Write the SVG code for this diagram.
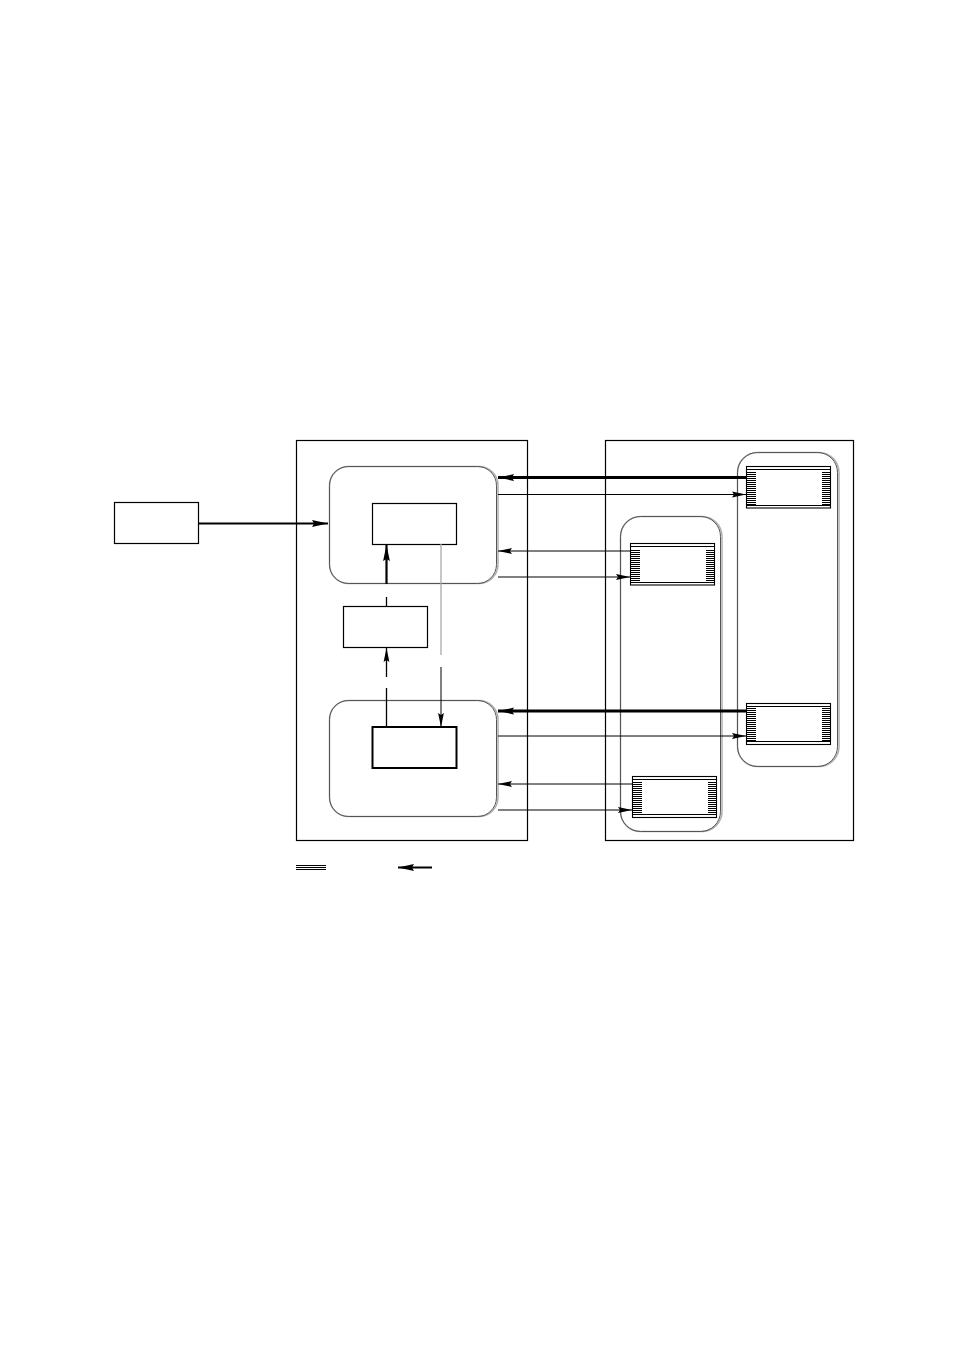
<svg xmlns="http://www.w3.org/2000/svg" width="954" height="1351" viewBox="0 0 954 1351">
<style>
.panel{fill:none;stroke:#000;stroke-width:1.2}
.box{fill:#fff;stroke:#000;stroke-width:1.2}
.boxb{fill:#fff;stroke:#000;stroke-width:2}
.rshadow{fill:none;stroke:#b0b0b0;stroke-width:1.5}
.rbox{fill:none;stroke:#555;stroke-width:1}
.hb{fill:#fff;stroke:#000;stroke-width:1.1}
.hl{stroke:#000;stroke-width:1}
.thin{stroke:#000;stroke-width:1;fill:none}
.mid{stroke:#000;stroke-width:1.3;fill:none}
.thick{stroke:#000;stroke-width:2.2;fill:none}
.vthick{stroke:#000;stroke-width:3;fill:none}
.gray{stroke:#aaa;stroke-width:1.3;fill:none}
</style>
<defs>
<marker id="ah" markerWidth="15" markerHeight="7" refX="14" refY="3.5" orient="auto" markerUnits="userSpaceOnUse">
<path d="M0,0.6 L14,3.5 L0,6.4 L2,3.5 z" fill="#000"/>
</marker>
<marker id="ahb" markerWidth="17" markerHeight="8" refX="16" refY="4" orient="auto" markerUnits="userSpaceOnUse">
<path d="M0,0.6 L16,4 L0,7.4 L2,4 z" fill="#000"/>
</marker>
<pattern id="hatch" width="4" height="2" patternUnits="userSpaceOnUse">
<rect x="0" y="0" width="4" height="1" fill="#000"/>
</pattern>
</defs>
<rect width="954" height="1351" fill="#fff"/>

<g id="panel-left"><rect class="panel" x="296.5" y="440.5" width="231" height="400"/></g>
<g id="panel-right"><rect class="panel" x="605.5" y="440.5" width="248" height="400"/></g>

<g id="group-top">
<rect class="rshadow" x="329.5" y="466.5" width="168.5" height="117" rx="19"/>
<rect class="rbox" x="329.5" y="466.5" width="167" height="117" rx="19"/>
</g>
<g id="group-bottom">
<rect class="rshadow" x="329.5" y="700.5" width="168.5" height="116" rx="19"/>
<rect class="rbox" x="329.5" y="700.5" width="167" height="116" rx="19"/>
</g>
<g id="group-tall-left">
<rect class="rshadow" x="620.5" y="516.5" width="101.5" height="315" rx="20"/>
<rect class="rbox" x="620.5" y="516.5" width="100" height="315" rx="20"/>
</g>
<g id="group-tall-right">
<rect class="rshadow" x="737.5" y="452.5" width="101.5" height="314" rx="20"/>
<rect class="rbox" x="737.5" y="452.5" width="100" height="314" rx="20"/>
</g>

<g id="node-source"><rect class="box" x="114.5" y="502.5" width="84" height="41"/></g>
<g id="node-top-inner"><rect class="box" x="372.5" y="503.5" width="84" height="41"/></g>
<g id="node-middle"><rect class="box" x="343.5" y="606.5" width="84" height="41"/></g>
<g id="node-bottom-inner"><rect class="boxb" x="372.5" y="727" width="84" height="41"/></g>

<g id="node-h1">
<rect class="hb" x="746.5" y="466.5" width="84" height="41.5"/>
<line class="hl" x1="746.5" y1="469.5" x2="830.5" y2="469.5"/>
<line class="hl" x1="746.5" y1="505.5" x2="830.5" y2="505.5"/>
<rect x="747" y="472" width="9" height="33" fill="url(#hatch)"/>
<rect x="822" y="472" width="8" height="33" fill="url(#hatch)"/>
</g>
<g id="node-h2">
<rect class="hb" x="630.5" y="543.5" width="84" height="41.5"/>
<line class="hl" x1="630.5" y1="546.5" x2="714.5" y2="546.5"/>
<line class="hl" x1="630.5" y1="582.5" x2="714.5" y2="582.5"/>
<rect x="631" y="549" width="9" height="33" fill="url(#hatch)"/>
<rect x="706" y="549" width="8" height="33" fill="url(#hatch)"/>
</g>
<g id="node-h3">
<rect class="hb" x="746.5" y="703.5" width="84" height="41"/>
<line class="hl" x1="746.5" y1="706.5" x2="830.5" y2="706.5"/>
<line class="hl" x1="746.5" y1="741.5" x2="830.5" y2="741.5"/>
<rect x="747" y="708" width="9" height="33" fill="url(#hatch)"/>
<rect x="822" y="708" width="8" height="33" fill="url(#hatch)"/>
</g>
<g id="node-h4">
<rect class="hb" x="632.5" y="776.5" width="84" height="41"/>
<line class="hl" x1="632.5" y1="779.5" x2="716.5" y2="779.5"/>
<line class="hl" x1="632.5" y1="814.5" x2="716.5" y2="814.5"/>
<rect x="633" y="782" width="9" height="32" fill="url(#hatch)"/>
<rect x="708" y="782" width="8" height="32" fill="url(#hatch)"/>
</g>

<g id="connectors">
<line class="thick" x1="199" y1="523.5" x2="328" y2="523.5" marker-end="url(#ahb)"/>
<line class="thick" x1="386.5" y1="584" x2="386.5" y2="545" marker-end="url(#ahb)"/>
<line class="mid" x1="386.5" y1="597" x2="386.5" y2="606"/>
<line class="mid" x1="386.5" y1="727" x2="386.5" y2="688"/>
<line class="mid" x1="386.5" y1="677" x2="386.5" y2="648" marker-end="url(#ah)"/>
<line class="gray" x1="441" y1="544" x2="441" y2="655"/>
<line class="thin" x1="441" y1="667" x2="441" y2="727" marker-end="url(#ah)"/>

<line class="vthick" x1="746" y1="477.5" x2="498" y2="477.5" marker-end="url(#ahb)"/>
<line class="thin" x1="498" y1="494.5" x2="746" y2="494.5" marker-end="url(#ah)"/>
<line class="thin" x1="630" y1="551" x2="498" y2="551" marker-end="url(#ah)"/>
<line class="thin" x1="498" y1="577" x2="630" y2="577" marker-end="url(#ah)"/>

<line class="vthick" x1="746" y1="711" x2="498" y2="711" marker-end="url(#ahb)"/>
<line class="thin" x1="498" y1="736" x2="746" y2="736" marker-end="url(#ah)"/>
<line class="thin" x1="632" y1="784" x2="498" y2="784" marker-end="url(#ah)"/>
<line class="thin" x1="498" y1="810" x2="632" y2="810" marker-end="url(#ah)"/>
</g>

<g id="legend">
<line class="thin" x1="296" y1="865.5" x2="326" y2="865.5"/>
<line class="thin" x1="296" y1="867.5" x2="326" y2="867.5"/>
<line class="thin" x1="296" y1="869.5" x2="326" y2="869.5"/>
<line class="thick" x1="432" y1="867.5" x2="398" y2="867.5" marker-end="url(#ahb)"/>
</g>
</svg>
